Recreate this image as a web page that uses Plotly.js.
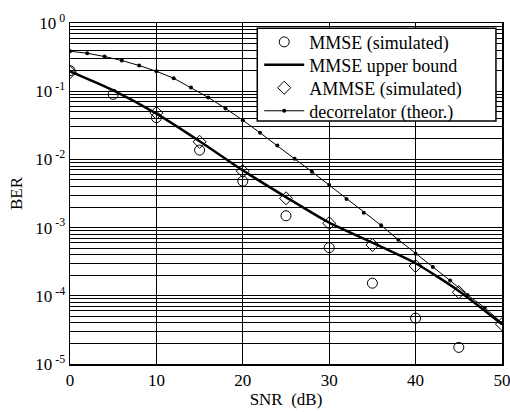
<!DOCTYPE html>
<html>
<head>
<meta charset="utf-8">
<script src="https://cdn.plot.ly/plotly-3.0.1.min.js"></script>
<style>html,body{margin:0;padding:0;background:#fff;}#chart{width:510px;height:412px;}</style>
</head>
<body>
<div id="chart"></div>
<script>
// SNR grid points (dB)
const snrSim = [0, 5, 10, 15, 20, 25, 30, 35, 40, 45];
const mmseSim = [0.2, 0.09, 0.041, 0.0137, 0.0048, 0.00149, 0.000508, 0.000153, 0.000047, 0.0000175];

const snrAmmse = [0, 10, 15, 20, 25, 30, 35, 40, 45, 50];
const ammseSim = [0.19, 0.048, 0.0181, 0.00674, 0.00269, 0.00116, 0.000556, 0.000274, 0.000113, 0.0000384];

const snrBound = [0, 5, 10, 15, 20, 25, 30, 35, 40, 45, 50];
const mmseBound = [0.195, 0.103, 0.047, 0.0185, 0.0069, 0.0028, 0.00118, 0.0006, 0.0003, 0.000118, 0.0000384];

const snrDec = [0, 2, 4, 6, 8, 10, 12, 14, 16, 18, 20, 22, 24, 26, 28, 30, 32, 34, 36, 38, 40, 42, 44, 46, 48, 50];
const decorr = [0.385, 0.36, 0.322, 0.282, 0.238, 0.196, 0.155, 0.113, 0.081, 0.0558, 0.0376, 0.0245, 0.016, 0.0102, 0.0066, 0.0042, 0.00262, 0.00165, 0.00108, 0.000665, 0.000415, 0.000265, 0.000167, 0.000103, 0.000067, 0.0000400];

const xTicks = [0, 10, 20, 30, 40, 50];
const yExponents = [0, -1, -2, -3, -4, -5];

const font = 'Liberation Serif';

const traces = [
  {x: snrSim, y: mmseSim, name: 'MMSE (simulated)', mode: 'markers', type: 'scatter', legend: 'legend',
   marker: {symbol: 'circle-open', size: 10, color: '#000', line: {width: 1, color: '#000'}}},
  {x: snrBound, y: mmseBound, name: 'MMSE upper bound', mode: 'lines', type: 'scatter', legend: 'legend2',
   line: {color: '#000', width: 2.5, shape: 'spline', smoothing: 0.6}},
  {x: snrAmmse, y: ammseSim, name: 'AMMSE (simulated)', mode: 'markers', type: 'scatter', legend: 'legend3',
   marker: {symbol: 'diamond-open', size: 10, color: '#000', line: {width: 1, color: '#000'}}},
  {x: snrDec, y: decorr, name: 'decorrelator (theor.)', mode: 'lines+markers', type: 'scatter', legend: 'legend4',
   line: {color: '#000', width: 1}, marker: {symbol: 'circle', size: 4, color: '#000'}}
];

function leg(y) {
  return {x: 0.438, y: y, xanchor: 'left', yanchor: 'middle',
          bgcolor: 'rgba(0,0,0,0)', borderwidth: 0, itemwidth: 40,
          font: {family: font, size: 18, color: '#000'}};
}

const layout = {
  width: 510, height: 412,
  margin: {l: 70, r: 8, t: 23, b: 48},
  paper_bgcolor: '#fff', plot_bgcolor: '#fff',
  font: {family: font, size: 17, color: '#000'},
  showlegend: true,
  legend: leg(0.9437),
  legend2: leg(0.8764),
  legend3: leg(0.8092),
  legend4: leg(0.7417),
  shapes: [{type: 'rect', xref: 'paper', yref: 'paper', x0: 0.4335, x1: 0.986, y0: 0.7124, y1: 0.9845,
            fillcolor: '#fff', line: {color: '#000', width: 1.5}, layer: 'above'}],
  xaxis: {range: [0, 50], tickvals: xTicks, ticktext: xTicks.map(String),
          ticklabeloverflow: 'allow',
          showgrid: true, gridcolor: '#000', gridwidth: 1, zeroline: false,
          showline: true, linecolor: '#000', linewidth: 1.5, mirror: true, ticks: '',
          tickfont: {family: font, size: 17, color: '#000'},
          title: {text: 'SNR\u00a0\u00a0(dB)', font: {family: font, size: 17, color: '#000'}, standoff: 2}},
  yaxis: {type: 'log', range: [-5, 0],
          tickvals: yExponents.map(e => Math.pow(10, e)),
          ticktext: yExponents.map(e => '10<sup> ' + e + '</sup>'),
          showgrid: true, gridcolor: '#000', gridwidth: 1, zeroline: false,
          showline: true, linecolor: '#000', linewidth: 1.5, mirror: true, ticks: '',
          minor: {dtick: 'D1', showgrid: true, gridcolor: '#000', gridwidth: 1, ticks: ''},
          tickfont: {family: font, size: 17, color: '#000'},
          title: {text: 'BER', font: {family: font, size: 17, color: '#000'}, standoff: 8}}
};

Plotly.newPlot('chart', traces, layout, {displayModeBar: false, staticPlot: true});
</script>
</body>
</html>
